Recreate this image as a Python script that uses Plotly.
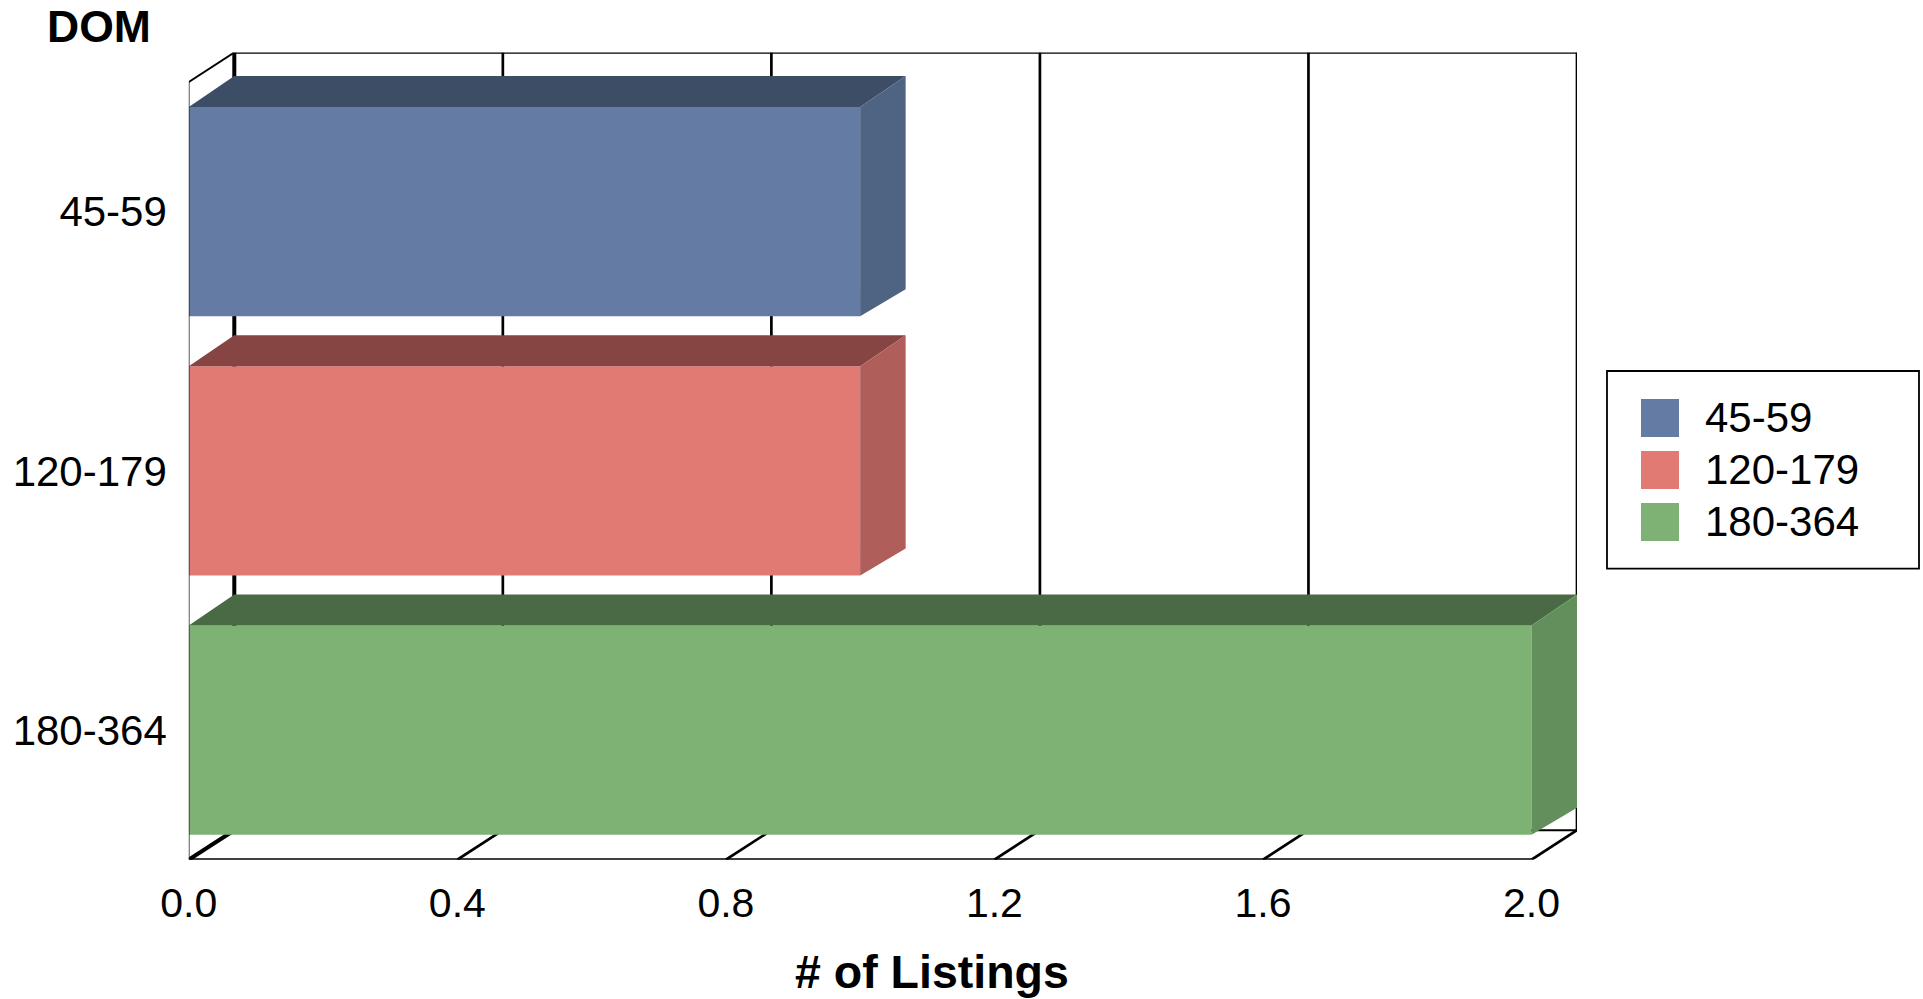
import plotly.graph_objects as go

# --- data ---
categories = ["45-59", "120-179", "180-364"]
values = [1, 1, 2]
x_ticks = [0.0, 0.4, 0.8, 1.2, 1.6, 2.0]
x_title = "# of Listings"
y_title = "DOM"

# --- colours ---
front = ["#647CA4", "#E07A73", "#7DB274"]
top = ["#3D4D65", "#864542", "#4A6A45"]
side = ["#4F6483", "#B05E59", "#628F5C"]

# --- geometry of the pseudo-3D box (pixels of the canvas) ---
W, H = 1923, 999
X0_PX, X2_PX, DX_PX = 188.8, 1531.5, 45.5
Y_BOTTOM_PX, Y_FRONT_TOP_PX, WALL_DY_PX = 859.7, 82.0, 29.5
BAR_TOP_DY_PX, BAR_BOTTOM_DY_PX = 31.0, 27.0

x_unit = (X2_PX - X0_PX) / max(x_ticks)
band = (Y_BOTTOM_PX - Y_FRONT_TOP_PX) / len(categories)
depth_x = DX_PX / x_unit
wall_dy = WALL_DY_PX / band
bar_top_dy = BAR_TOP_DY_PX / band
bar_bottom_dy = BAR_BOTTOM_DY_PX / band
bar_width = 0.807
y_bottom = len(categories) - 0.5
y_front_top = -0.5
y_positions = list(range(len(categories)))
x_max = max(x_ticks)

fig = go.Figure()


def line(x0, y0, x1, y1, width=2.7, layer="below", color="#000000"):
    fig.add_shape(type="line", xref="x", yref="y", x0=x0, y0=y0, x1=x1, y1=y1,
                  line=dict(color=color, width=width), layer=layer)


# back wall gridlines and floor slants
for i, t in enumerate(x_ticks):
    w = 4 if i == 0 else 2.7
    line(t + depth_x, y_front_top - wall_dy, t + depth_x, y_bottom - wall_dy, w)
    line(t, y_bottom, t + depth_x, y_bottom - wall_dy, w)
# frame
line(0, y_front_top, depth_x, y_front_top - wall_dy, 2)
line(depth_x, y_front_top - wall_dy, x_max + depth_x, y_front_top - wall_dy, 2.7)
line(depth_x, y_bottom - wall_dy, x_max + depth_x, y_bottom - wall_dy, 2)
line(0, y_bottom, x_max, y_bottom, 3)
line(0, y_front_top, 0, y_bottom, 1.5, layer="above", color="#222222")

# bars: front faces via the bar trace, top and side faces as filled polygons
for i, (cat, v) in enumerate(zip(categories, values)):
    y = y_positions[i]
    yt = y - bar_width / 2
    yb = y + bar_width / 2
    fig.add_trace(go.Bar(x=[v], y=[y], orientation="h", width=bar_width, name=cat,
                         marker=dict(color=front[i], line=dict(width=0)),
                         hoverinfo="x+name"))
    fig.add_trace(go.Scatter(
        x=[0, depth_x, v + depth_x, v, 0],
        y=[yt, yt - bar_top_dy, yt - bar_top_dy, yt, yt],
        mode="lines", fill="toself", fillcolor=top[i], line=dict(width=0),
        hoverinfo="skip", cliponaxis=False))
    fig.add_trace(go.Scatter(
        x=[v, v + depth_x, v + depth_x, v, v],
        y=[yt, yt - bar_top_dy, yb - bar_bottom_dy, yb, yt],
        mode="lines", fill="toself", fillcolor=side[i], line=dict(width=0),
        hoverinfo="skip", cliponaxis=False))

# legend box, drawn to keep the large square swatches of the original
fig.add_shape(type="rect", xref="paper", yref="paper",
              x0=1607 / W, x1=1919 / W, y0=1 - 568.7 / H, y1=1 - 371 / H,
              line=dict(color="#000000", width=1.8), fillcolor="#ffffff")
LEG_TOP, LEG_STEP, LEG_SIZE = 399, 52, 38
for i, cat in enumerate(categories):
    y0 = LEG_TOP + i * LEG_STEP
    fig.add_shape(type="rect", xref="paper", yref="paper",
                  x0=1641 / W, x1=(1641 + LEG_SIZE) / W,
                  y0=1 - (y0 + LEG_SIZE) / H, y1=1 - y0 / H,
                  line=dict(width=0), fillcolor=front[i])
    fig.add_annotation(text=cat, xref="paper", yref="paper", showarrow=False,
                       x=1702.5 / W, y=1 - (y0 + LEG_SIZE / 2 - 0.5) / H,
                       xanchor="left", yanchor="middle",
                       font=dict(size=42, color="#000000"))

fig.add_annotation(text="<b>%s</b>" % x_title, xref="paper", yref="paper", showarrow=False,
                   x=931.5 / W, y=1 - 971.5 / H, xanchor="center", yanchor="middle",
                   font=dict(size=46.5, color="#000000"))
fig.add_annotation(text="<b>%s</b>" % y_title, xref="paper", yref="paper", showarrow=False,
                   x=99 / W, y=1 - 27 / H, xanchor="center", yanchor="middle",
                   font=dict(size=44.5, color="#000000"))

fig.update_layout(
    width=W, height=H, autosize=False,
    margin=dict(l=0, r=0, t=0, b=0, pad=0, autoexpand=False),
    paper_bgcolor="#ffffff", plot_bgcolor="#ffffff",
    showlegend=False, barmode="overlay",
    font=dict(family="Liberation Sans, Arial, sans-serif", size=42, color="#000000"),
    xaxis=dict(domain=[X0_PX / W, (X2_PX + DX_PX) / W], range=[0, x_max + depth_x],
               tickvals=x_ticks, tickformat=".1f", showgrid=False, zeroline=False,
               showline=False, ticks="", ticklabelstandoff=15, automargin=False,
               tickfont=dict(size=41)),
    yaxis=dict(domain=[1 - Y_BOTTOM_PX / H, 1 - (Y_FRONT_TOP_PX - WALL_DY_PX) / H],
               range=[y_bottom, y_front_top - wall_dy],
               tickvals=y_positions, ticktext=categories, showgrid=False, zeroline=False,
               showline=False, ticks="", ticklabelstandoff=21, automargin=False),
)

fig.write_html("out.html", config={"displayModeBar": False},
               post_script="document.body.style.margin='0';document.body.style.overflow='hidden';")
